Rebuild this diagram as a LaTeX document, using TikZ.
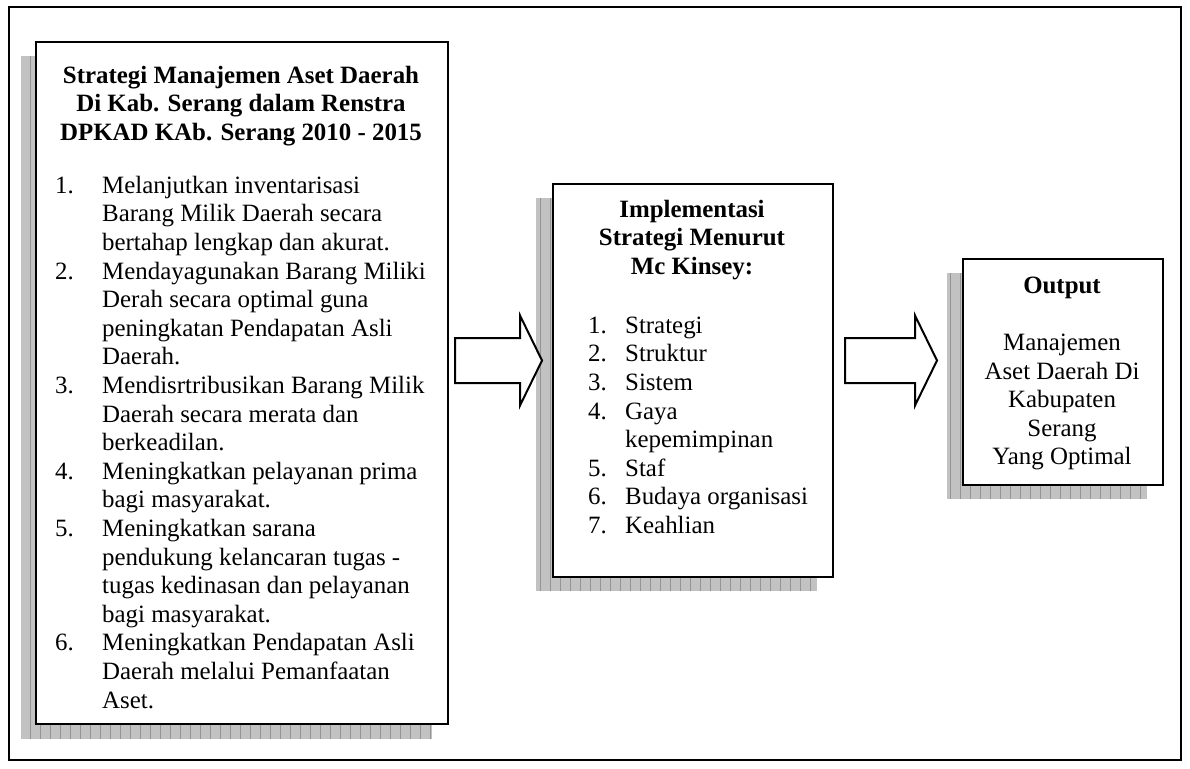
\documentclass[tikz,border=0pt]{standalone}
\usepackage{fontspec}
\setmainfont{Liberation Serif}
\newcommand\bodysize{\fontsize{24.9}{28.6}\selectfont}
\newcommand\num[1]{\makebox[47pt][l]{#1}}
\newcommand\numb[1]{\makebox[37pt][l]{#1}}
\tikzset{
  boxframe/.style={draw=black, line width=2pt, fill=white, anchor=north west, inner sep=0pt},
  shadowfill/.style={fill=black!24},
  shadowgrid/.style={draw=black!42, line width=0.8pt},
  txt/.style={inner sep=0pt, font=\bodysize, align=left, anchor=north west},
  ctxt/.style={inner sep=0pt, font=\bodysize, align=center, anchor=north},
  blockarrow/.style={draw=black, line width=2pt, fill=white, line join=miter},
}
% drop shadow with a light grid: #1 = one corner, #2 = opposite corner
\newcommand\gridshadow[2]{%
  \begin{scope}
    \clip #1 rectangle #2;
    \fill[shadowfill] #1 rectangle #2;
    \draw[shadowgrid, step=10] #1 grid #2;
  \end{scope}}
\begin{document}
\begin{tikzpicture}[x=1pt, y=-1pt]
  \useasboundingbox (0,0) rectangle (1190,768);
  % outer frame
  \draw[line width=1.3pt] (9,7) rectangle (1181,760);

  % shadows
  \gridshadow{(21,56)}{(432,739)}
  \gridshadow{(536,198)}{(817,591)}
  \gridshadow{(947,273)}{(1147,499)}

  % boxes
  \node[boxframe, minimum width=412pt, minimum height=682pt] (strat) at (35,41) {};
  \node[boxframe, minimum width=280pt, minimum height=393pt] (impl) at (552,183) {};
  \node[boxframe, minimum width=200pt, minimum height=226pt] (out) at (962,258) {};

  % box 1 text
  \node[ctxt, font=\bodysize\bfseries] (stratT) at (241,63) {%
    Strategi Manajemen Aset Daerah\strut\\
    Di Kab. Serang dalam Renstra\strut\\
    DPKAD KAb. Serang 2010 - 2015\strut};
  \node[txt] (stratL) at (55,173) {%
    \num{1.}Melanjutkan inventarisasi\strut\\
    \num{}Barang Milik Daerah secara\strut\\
    \num{}bertahap lengkap dan akurat.\strut\\
    \num{2.}Mendayagunakan Barang Miliki\strut\\
    \num{}Derah secara optimal guna\strut\\
    \num{}peningkatan Pendapatan Asli\strut\\
    \num{}Daerah.\strut\\
    \num{3.}Mendisrtribusikan Barang Milik\strut\\
    \num{}Daerah secara merata dan\strut\\
    \num{}berkeadilan.\strut\\
    \num{4.}Meningkatkan pelayanan prima\strut\\
    \num{}bagi masyarakat.\strut\\
    \num{5.}Meningkatkan sarana\strut\\
    \num{}pendukung kelancaran tugas -\strut\\
    \num{}tugas kedinasan dan pelayanan\strut\\
    \num{}bagi masyarakat.\strut\\
    \num{6.}Meningkatkan Pendapatan Asli\strut\\
    \num{}Daerah melalui Pemanfaatan\strut\\
    \num{}Aset.\strut};

  % box 2 text
  \node[ctxt, font=\bodysize\bfseries] (implT) at (692,197) {%
    Implementasi\strut\\
    Strategi Menurut\strut\\
    Mc Kinsey:\strut};
  \node[txt] (implL) at (588,313) {%
    \numb{1.}Strategi\strut\\
    \numb{2.}Struktur\strut\\
    \numb{3.}Sistem\strut\\
    \numb{4.}Gaya\strut\\
    \numb{}kepemimpinan\strut\\
    \numb{5.}Staf\strut\\
    \numb{6.}Budaya organisasi\strut\\
    \numb{7.}Keahlian\strut};

  % box 3 text
  \node[ctxt] (outT) at (1062,273) {%
    \textbf{Output}\strut\\
    \strut\\
    Manajemen\strut\\
    Aset Daerah Di\strut\\
    Kabupaten\strut\\
    Serang\strut\\
    Yang Optimal\strut};

  % block arrows between the boxes
  \draw[blockarrow] (455,338) -- (520,338) -- (520,315.5) -- (542,360.5)
    -- (520,405.5) -- (520,383) -- (455,383) -- cycle;
  \draw[blockarrow] (845,338) -- (915,338) -- (915,315.5) -- (937,360.5)
    -- (915,405.5) -- (915,383) -- (845,383) -- cycle;
\end{tikzpicture}
\end{document}
